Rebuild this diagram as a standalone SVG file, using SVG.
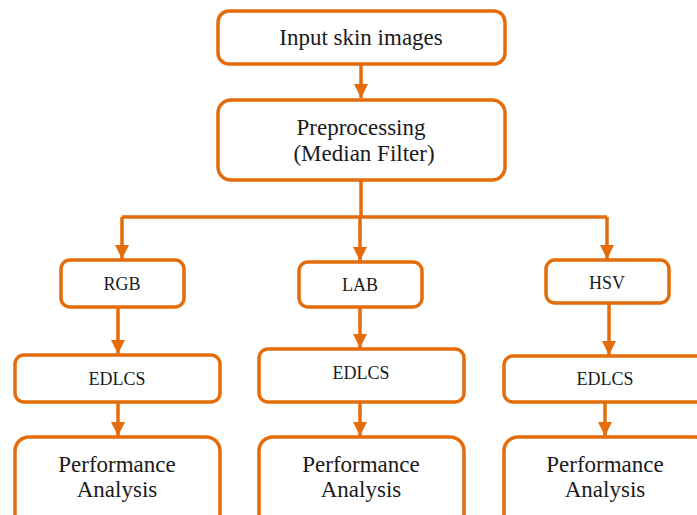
<svg xmlns="http://www.w3.org/2000/svg" width="697" height="515" viewBox="0 0 697 515">
<style>
.box{fill:#fff;stroke:#E46C0A;stroke-width:3.5}
.ln{fill:none;stroke:#E46C0A;stroke-width:3.5}
text{fill:#1a1a1a;text-anchor:middle}
</style>
<defs>
<marker id="ah" markerUnits="userSpaceOnUse" markerWidth="16" markerHeight="16" viewBox="0 0 16 16" refX="14" refY="8" orient="auto">
<path d="M0,1 L14,8 L0,15 Z" fill="#E46C0A"/>
</marker>
</defs>
<rect width="697" height="515" fill="#fff"/>
<g id="connectors">
<path class="ln" d="M361,63 V98" marker-end="url(#ah)"/>
<path class="ln" d="M361,180 V217"/>
<path class="ln" d="M122,217 H607"/>
<path class="ln" d="M122,217 V259" marker-end="url(#ah)"/>
<path class="ln" d="M360,217 V261" marker-end="url(#ah)"/>
<path class="ln" d="M607,217 V259" marker-end="url(#ah)"/>
<path class="ln" d="M118,307 V354" marker-end="url(#ah)"/>
<path class="ln" d="M360,307 V348" marker-end="url(#ah)"/>
<path class="ln" d="M609,303 V355" marker-end="url(#ah)"/>
<path class="ln" d="M118,402 V436" marker-end="url(#ah)"/>
<path class="ln" d="M360,402 V436" marker-end="url(#ah)"/>
<path class="ln" d="M605,402 V436" marker-end="url(#ah)"/>
</g>
<g id="input">
<rect class="box" x="218" y="11" width="287" height="53" rx="11"/>
<text x="361" y="45" font-size="23" font-family="Liberation Serif">Input skin images</text>
</g>
<g id="preprocessing">
<rect class="box" x="218" y="100" width="287" height="80" rx="13"/>
<text x="361" y="135" font-size="23" font-family="Liberation Serif">Preprocessing</text>
<text x="364" y="161" font-size="23" font-family="Liberation Serif">(Median Filter)</text>
</g>
<g id="rgb">
<rect class="box" x="61" y="260" width="123" height="47" rx="9"/>
<text x="122" y="290" font-size="18" font-family="Liberation Serif">RGB</text>
</g>
<g id="lab">
<rect class="box" x="299" y="262" width="123" height="45" rx="9"/>
<text x="360" y="291" font-size="18" font-family="Liberation Serif">LAB</text>
</g>
<g id="hsv">
<rect class="box" x="546" y="260" width="123" height="43" rx="9"/>
<text x="607" y="289" font-size="18" font-family="Liberation Serif">HSV</text>
</g>
<g id="edlcs1">
<rect class="box" x="15" y="355" width="205" height="47" rx="9"/>
<text x="117" y="385" font-size="18" font-family="Liberation Serif">EDLCS</text>
</g>
<g id="edlcs2">
<rect class="box" x="259" y="349" width="205" height="53" rx="9"/>
<text x="361" y="379" font-size="18" font-family="Liberation Serif">EDLCS</text>
</g>
<g id="edlcs3">
<rect class="box" x="504" y="356" width="205" height="46" rx="9"/>
<text x="605" y="385" font-size="18" font-family="Liberation Serif">EDLCS</text>
</g>
<g id="perf1">
<rect class="box" x="15" y="437" width="205" height="100" rx="14"/>
<text x="117" y="472" font-size="23" font-family="Liberation Serif">Performance</text>
<text x="117" y="497" font-size="23" font-family="Liberation Serif">Analysis</text>
</g>
<g id="perf2">
<rect class="box" x="259" y="437" width="205" height="100" rx="14"/>
<text x="361" y="472" font-size="23" font-family="Liberation Serif">Performance</text>
<text x="361" y="497" font-size="23" font-family="Liberation Serif">Analysis</text>
</g>
<g id="perf3">
<rect class="box" x="504" y="437" width="205" height="100" rx="14"/>
<text x="605" y="472" font-size="23" font-family="Liberation Serif">Performance</text>
<text x="605" y="497" font-size="23" font-family="Liberation Serif">Analysis</text>
</g>
</svg>
